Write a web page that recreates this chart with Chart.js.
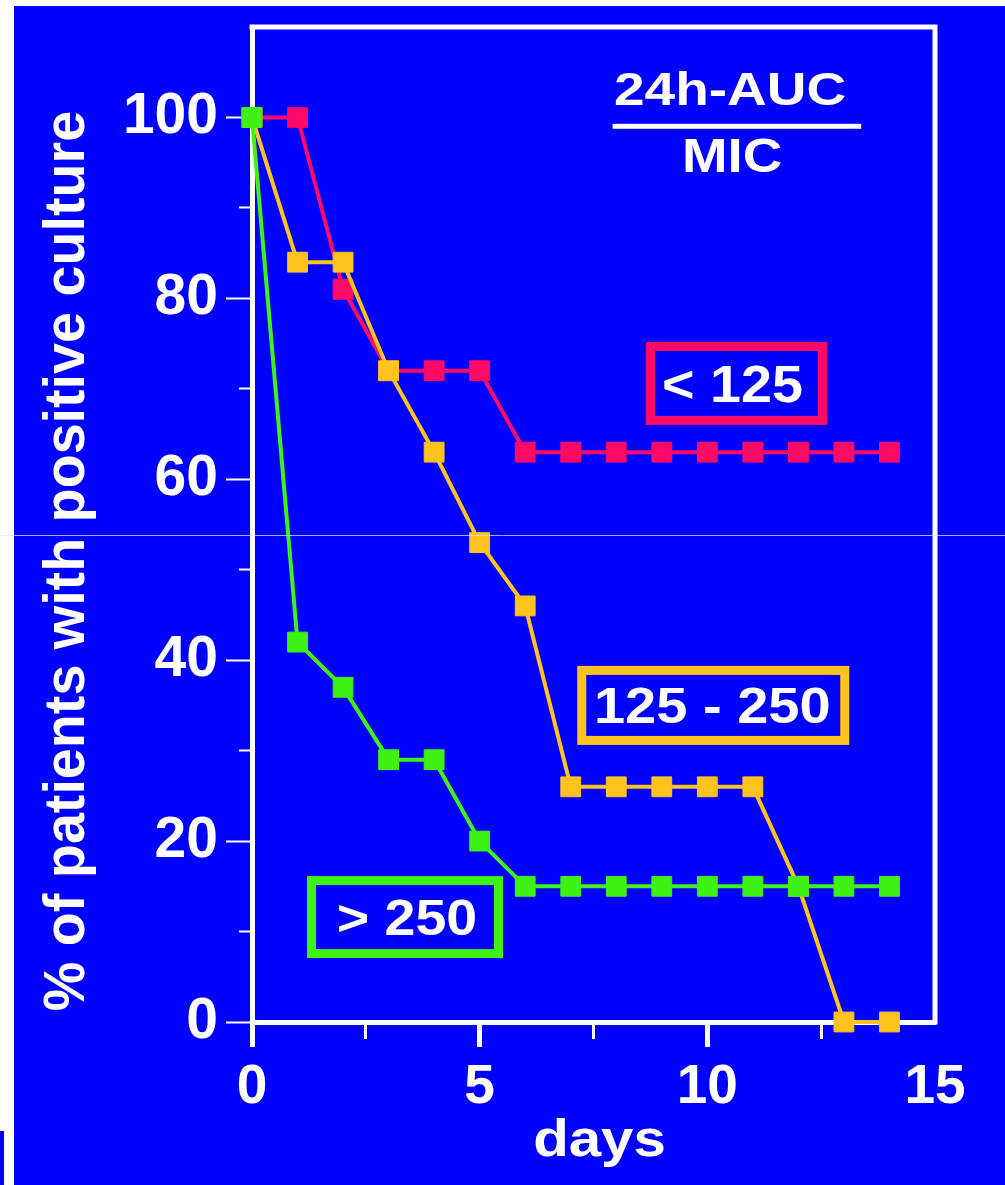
<!DOCTYPE html>
<html>
<head>
<meta charset="utf-8">
<script src="https://cdn.jsdelivr.net/npm/chart.js@4.4.1/dist/chart.umd.min.js"></script>
<style>
  html, body { margin: 0; padding: 0; background: #ffffff; overflow: hidden; }
  #wrap { position: relative; width: 1005px; height: 1185px; }
  canvas { display: block; }
</style>
</head>
<body>
<div id="wrap"><canvas id="c" width="1005" height="1185"></canvas></div>
<script>
// ---- data ----
const days = [0, 1, 2, 3, 4, 5, 6, 7, 8, 9, 10, 11, 12, 13, 14];
const seriesLt125 = [100, 100, 81, 72, 72, 72, 63, 63, 63, 63, 63, 63, 63, 63, 63];
const series125to250 = [100, 84, 84, 72, 63, 53, 46, 26, 26, 26, 26, 26, 15, 0, 0];
const seriesGt250 = [100, 42, 37, 29, 29, 20, 15, 15, 15, 15, 15, 15, 15, 15, 15];
const seriesNames = ['> 250', '125 - 250', '< 125'];
const xTickLabels = [0, 5, 10, 15];
const yTickLabels = [0, 20, 40, 60, 80, 100];
const xTitle = 'days';
const yTitle = '% of patients with positive culture';
const ratioTop = '24h-AUC';
const ratioBottom = 'MIC';

// ---- styles ----
const BLUE = '#0000FF';
const RED = '#FF0A64';
const ORANGE = '#FFC31E';
const GREEN = '#3EF214';
const WHITE = '#FFFFFF';
const FONT = '"Liberation Sans", Arial, Helvetica, sans-serif';

function pts(vals) { return days.map((d, i) => ({ x: d, y: vals[i] })); }

function capText(ctx, text, cx, capMid, size, hscale) {
  ctx.save();
  ctx.font = 'bold ' + size + 'px ' + FONT;
  ctx.translate(cx, capMid + 0.716 * size / 2);
  ctx.scale(hscale, 1);
  ctx.textAlign = 'center';
  ctx.textBaseline = 'alphabetic';
  ctx.fillStyle = WHITE;
  ctx.fillText(text, 0, 0);
  ctx.restore();
}

// annotation boxes placed in data coordinates (day, %)
const labelBoxes = [
  { text: seriesNames[2], color: RED,    day: 10.64, val: 70.6, w: 172, h: 74, tdx: -4,  size: 52, hs: 1.07 },
  { text: seriesNames[1], color: ORANGE, day: 10.13, val: 35.0, w: 263, h: 70, tdx: -1,  size: 50, hs: 1.12 },
  { text: seriesNames[0], color: GREEN,  day: 3.36,  val: 11.6, w: 187, h: 73, tdx: 2,   size: 50, hs: 1.11 }
];

const decor = {
  id: 'decor',
  beforeDraw(chart) {
    const ctx = chart.ctx;
    ctx.save();
    ctx.fillStyle = WHITE;
    ctx.fillRect(0, 0, chart.width, chart.height);
    ctx.fillStyle = BLUE;
    ctx.fillRect(14, 6, chart.width - 14, chart.height - 6);
    ctx.fillRect(0, 1131, 4, chart.height - 1131);
    ctx.restore();
  },
  beforeDatasetsDraw(chart) {
    const ctx = chart.ctx, a = chart.chartArea;
    const xs = chart.scales.x, ys = chart.scales.y;
    ctx.save();
    // top and right sides of the frame
    ctx.strokeStyle = WHITE;
    ctx.lineWidth = 5;
    ctx.beginPath();
    ctx.moveTo(a.left - 2.5, a.top);
    ctx.lineTo(a.right, a.top);
    ctx.lineTo(a.right, a.bottom + 2.5);
    ctx.stroke();
    // legend boxes
    labelBoxes.forEach(b => {
      const cx = xs.getPixelForValue(b.day), cy = ys.getPixelForValue(b.val);
      ctx.strokeStyle = b.color;
      ctx.lineWidth = 9;
      ctx.strokeRect(cx - b.w / 2, cy - b.h / 2, b.w, b.h);
      capText(ctx, b.text, cx + b.tdx, cy, b.size, b.hs);
    });
    // ratio title
    const rx = xs.getPixelForValue(10.5);
    capText(ctx, ratioTop, rx, ys.getPixelForValue(103.2), 47, 1.17);
    ctx.fillStyle = WHITE;
    ctx.fillRect(xs.getPixelForValue(7.92), ys.getPixelForValue(99.3), xs.getPixelForValue(13.38) - xs.getPixelForValue(7.92), 5);
    capText(ctx, ratioBottom, rx + 2, ys.getPixelForValue(95.9), 48, 1.14);
    // axis titles
    capText(ctx, xTitle, (a.left + a.right) / 2 + 6, 1137, 52, 1.12);
    ctx.save();
    ctx.translate(84, 561);
    ctx.rotate(-Math.PI / 2);
    ctx.font = 'bold 58px ' + FONT;
    ctx.scale(0.96, 1);
    ctx.textAlign = 'center';
    ctx.textBaseline = 'alphabetic';
    ctx.fillStyle = WHITE;
    ctx.fillText(yTitle, 0, 0);
    ctx.restore();
    ctx.restore();
  },
  afterDraw(chart) {
    const ctx = chart.ctx;
    ctx.save();
    ctx.strokeStyle = 'rgba(225,225,255,0.75)';
    ctx.lineWidth = 1;
    ctx.beginPath();
    ctx.moveTo(0, 535.5);
    ctx.lineTo(chart.width, 535.5);
    ctx.stroke();
    ctx.restore();
  }
};

function ds(label, vals, color) {
  return {
    label, data: pts(vals),
    borderColor: color, backgroundColor: color,
    borderWidth: 4, tension: 0,
    pointStyle: 'rect', pointRadius: 14, pointHoverRadius: 14,
    pointBorderWidth: 1, pointBorderColor: color, pointBackgroundColor: color,
    clip: false
  };
}

new Chart(document.getElementById('c'), {
  type: 'line',
  data: {
    datasets: [
      ds(seriesNames[0], seriesGt250, GREEN),
      ds(seriesNames[1], series125to250, ORANGE),
      ds(seriesNames[2], seriesLt125, RED)
    ]
  },
  options: {
    responsive: false,
    animation: false,
    devicePixelRatio: 1,
    layout: { padding: { left: 0, top: 27, right: 70, bottom: 0 } },
    plugins: { legend: { display: false }, tooltip: { enabled: false } },
    scales: {
      x: {
        type: 'linear', min: 0, max: 15,
        afterFit(s) { s.height = 163; s.paddingLeft = 0; s.paddingRight = 0; },
        border: { display: true, color: WHITE, width: 5 },
        grid: {
          display: true, drawOnChartArea: false, drawTicks: true, tickLength: 25,
          tickColor: c => (c.tick && c.tick.value === 15) ? 'rgba(0,0,0,0)' : WHITE,
          tickWidth: c => (c.tick && xTickLabels.includes(c.tick.value)) ? 5 : 3,
          tickBorderDash: c => (c.tick && xTickLabels.includes(c.tick.value)) ? [] : [14, 100]
        },
        ticks: {
          stepSize: 2.5, autoSkip: false, maxRotation: 0, padding: 8,
          color: WHITE, font: { family: FONT, size: 55, weight: 'bold' },
          callback: v => xTickLabels.includes(v) ? String(v) : ''
        }
      },
      y: {
        type: 'linear', min: 0, max: 110,
        afterFit(s) { s.width = 252; s.paddingTop = 0; s.paddingBottom = 0; },
        border: { display: true, color: WHITE, width: 5 },
        grid: {
          display: true, drawOnChartArea: false, drawTicks: true, tickLength: 26,
          tickColor: c => (c.tick && c.tick.value > 100) ? 'rgba(0,0,0,0)' : WHITE,
          tickWidth: 2,
          tickBorderDash: c => (c.tick && yTickLabels.includes(c.tick.value)) ? [] : [0, 13, 13, 0]
        },
        ticks: {
          stepSize: 10, autoSkip: false, padding: 8,
          color: WHITE, font: { family: FONT, size: 57, weight: 'bold' },
          callback: v => yTickLabels.includes(v) ? String(v) : ''
        }
      }
    }
  },
  plugins: [decor]
});
</script>
</body>
</html>
